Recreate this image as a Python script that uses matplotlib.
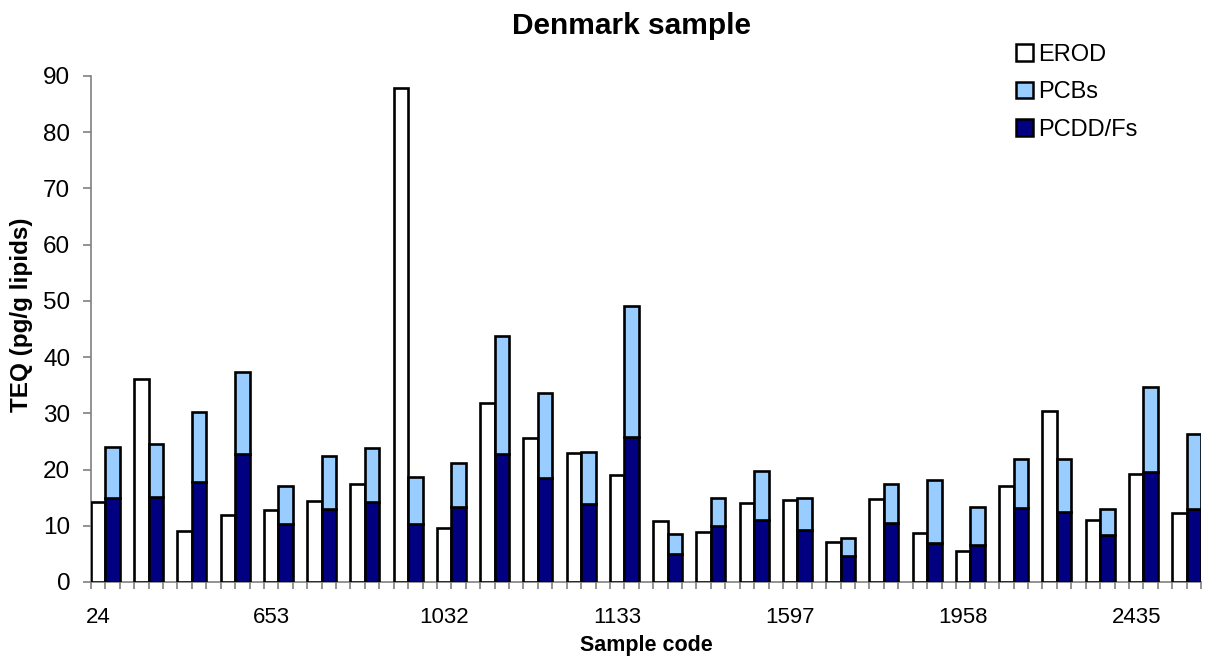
import numpy as np
import matplotlib
matplotlib.use("Agg")
import matplotlib.pyplot as plt
from matplotlib.patches import Patch

plt.rcParams['font.family'] = ['Liberation Sans', 'DejaVu Sans']

# ---- data ----
sample_labels = ["24", "", "", "", "653", "", "", "", "1032", "", "", "", "1133",
                 "", "", "", "1597", "", "", "", "1958", "", "", "", "2435", ""]
erod = [14.2, 36.1, 9.1, 11.9, 12.8, 14.4, 17.4, 87.9, 9.6, 31.8, 25.7, 22.9, 19.0,
        10.9, 8.9, 14.1, 14.6, 7.2, 14.8, 8.7, 5.5, 17.0, 30.4, 11.0, 19.2, 12.3]
pcdd_fs = [14.9, 15.1, 17.7, 22.7, 10.4, 12.9, 14.2, 10.4, 13.3, 22.8, 18.5, 13.9, 25.8,
           5.0, 9.9, 11.1, 9.3, 4.6, 10.5, 6.9, 6.6, 13.1, 12.4, 8.3, 19.6, 13.0]
pcbs = [9.2, 9.4, 12.5, 14.6, 6.6, 9.6, 9.6, 8.2, 7.9, 21.0, 15.1, 9.3, 23.3,
        3.5, 5.1, 8.7, 5.6, 3.3, 6.9, 11.2, 6.7, 8.8, 9.5, 4.7, 15.0, 13.4]
yticks = [0, 10, 20, 30, 40, 50, 60, 70, 80, 90]

W, H = 1213, 664
fig = plt.figure(figsize=(W / 100, H / 100), dpi=100)
ax = fig.add_axes([91 / W, 1 - 582 / H, (1201 - 91) / W, (582 - 76) / H])

n = len(erod)
slots = 3 * np.arange(n)
lw = 1.9
ax.bar(slots, erod, width=1, align='edge', color='white', edgecolor='black',
       linewidth=lw, label='EROD', zorder=3)
ax.bar(slots + 1, pcdd_fs, width=1, align='edge', color='#000080', edgecolor='black',
       linewidth=lw, label='PCDD/Fs', zorder=3)
ax.bar(slots + 1, pcbs, bottom=pcdd_fs, width=1, align='edge', color='#99CCFF',
       edgecolor='black', linewidth=lw, label='PCBs', zorder=3)

ax.set_xlim(0, 3 * n - 1)
ax.set_ylim(0, 90)

for s in ['top', 'right']:
    ax.spines[s].set_visible(False)
for s in ['left', 'bottom']:
    ax.spines[s].set_color('#808080')
    ax.spines[s].set_linewidth(1.2)

ax.set_yticks(yticks)
ax.set_yticklabels([str(v) for v in yticks], fontsize=17.5)
ax.tick_params(axis='y', direction='out', length=6, width=1.2, color='#808080', pad=9)

lab_pos = [3 * i + 0.5 for i, l in enumerate(sample_labels) if l]
ax.set_xticks(lab_pos)
ax.set_xticklabels([l for l in sample_labels if l], fontsize=16)
ax.set_xticks(np.arange(0, 3 * n), minor=True)
ax.tick_params(axis='x', which='major', length=0, pad=18)
ax.tick_params(axis='x', which='minor', direction='out', length=5, width=1.2, color='#808080')

fig.text(632 / W, 1 - 26 / H, "Denmark sample", fontsize=21.5, fontweight='bold',
         ha='center', va='center')
fig.text(646 / W, 1 - 646 / H, "Sample code", fontsize=15.5, fontweight='bold',
         ha='center', va='center')
fig.text(22 / W, 1 - 315 / H, "TEQ (pg/g lipids)", fontsize=17.5, fontweight='bold',
         ha='center', va='center', rotation=90)

handles = [Patch(facecolor='white', edgecolor='black', linewidth=1.8),
           Patch(facecolor='#99CCFF', edgecolor='black', linewidth=1.8),
           Patch(facecolor='#000080', edgecolor='black', linewidth=1.8)]
fig.legend(handles, ['EROD', 'PCBs', 'PCDD/Fs'], loc='upper left',
           bbox_to_anchor=(1016 / W, 1 - 44 / H), frameon=False, fontsize=17,
           handlelength=0.7, handleheight=0.7, handletextpad=0.25,
           labelspacing=0.65, borderpad=0, borderaxespad=0)

fig.savefig("out.png", dpi=100)
